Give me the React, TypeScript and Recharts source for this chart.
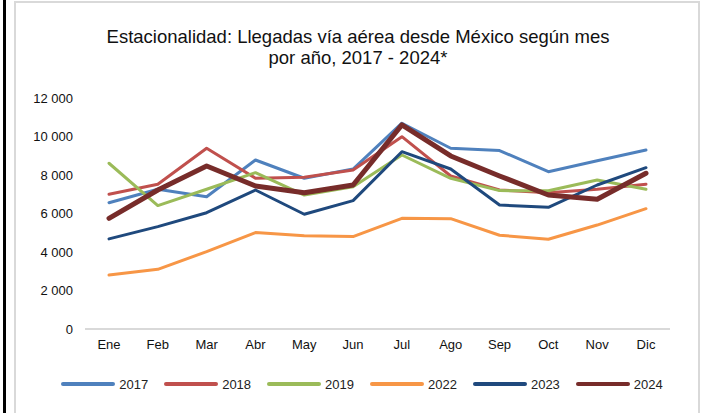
import { LineChart, Line, XAxis, YAxis, Legend } from 'recharts';

const months = ['Ene', 'Feb', 'Mar', 'Abr', 'May', 'Jun', 'Jul', 'Ago', 'Sep', 'Oct', 'Nov', 'Dic'];

const y2017 = [6560, 7260, 6870, 8780, 7830, 8310, 10690, 9390, 9270, 8170, 8740, 9300];
const y2018 = [7000, 7520, 9390, 7830, 7880, 8260, 9990, 7950, 7220, 7080, 7260, 7520];
const y2019 = [8610, 6410, 7260, 8120, 6960, 7390, 9040, 7830, 7190, 7180, 7740, 7260];
const y2022 = [2800, 3100, 4020, 5010, 4850, 4800, 5750, 5730, 4870, 4660, 5400, 6250];
const y2023 = [4680, 5320, 6040, 7220, 5960, 6670, 9210, 8310, 6440, 6320, 7480, 8380];
const y2024 = [5750, 7220, 8470, 7430, 7080, 7480, 10600, 8990, 7950, 6960, 6740, 8090];

const yTicks = [0, 2000, 4000, 6000, 8000, 10000, 12000];

const series = [
    { key: '2017', values: y2017, color: '#4F81BD', width: 3 },
    { key: '2018', values: y2018, color: '#C0504D', width: 3 },
    { key: '2019', values: y2019, color: '#9BBB59', width: 3 },
    { key: '2022', values: y2022, color: '#F79646', width: 3 },
    { key: '2023', values: y2023, color: '#1F497D', width: 3 },
    { key: '2024', values: y2024, color: '#772C2A', width: 5 },
];

const data = months.map((m, i) => {
    const row: Record<string, string | number> = { month: m };
    series.forEach((s) => {
        row[s.key] = s.values[i];
    });
    return row;
});

const FONT = '"Liberation Sans", Arial, sans-serif';

const fmt = (v: number) => String(v).replace(/\B(?=(\d{3})+(?!\d))/g, ' ');

const LegendContent = () => (
    <div style={{ display: 'flex', justifyContent: 'center', alignItems: 'center', height: 40, gap: 16, paddingLeft: 18 }}>
        {series.map((s) => (
            <div key={s.key} style={{ display: 'flex', alignItems: 'center' }}>
                <div style={{ width: 54, height: 4, borderRadius: 2, background: s.color, marginRight: 4 }} />
                <span style={{ fontSize: 13, color: '#222', fontFamily: FONT }}>{s.key}</span>
            </div>
        ))}
    </div>
);

export default function App() {
    return (
        <div style={{ position: 'fixed', top: 0, left: 0, width: 706, height: 413, background: '#fff', overflow: 'hidden', fontFamily: FONT }}>
            <div style={{ position: 'absolute', left: 3, top: 0, width: 2.5, height: 413, background: '#000' }} />
            <div style={{ position: 'absolute', left: 14, top: 1, width: 682, height: 430, border: '2px solid #D9D9D9' }} />
            <div
                style={{
                    position: 'absolute',
                    left: 0,
                    top: 26,
                    width: 716,
                    textAlign: 'center',
                    fontSize: 18.5,
                    lineHeight: '21px',
                    color: '#111',
                }}
            >
                Estacionalidad: Llegadas vía aérea desde México según mes
                <br />
                por año, 2017 - 2024*
            </div>
            <div style={{ position: 'absolute', left: 0, top: 0 }}>
                <LineChart width={706} height={413} data={data} margin={{ top: 98, right: 36, bottom: 9, left: 0 }}>
                    <XAxis
                        dataKey="month"
                        tickLine={false}
                        axisLine={{ stroke: '#D9D9D9', strokeWidth: 2 }}
                        tick={{ fill: '#111', fontSize: 13, fontFamily: FONT }}
                        tickMargin={5}
                        height={35}
                        interval={0}
                        padding={{ left: 24, right: 24 }}
                    />
                    <YAxis
                        domain={[0, 12000]}
                        ticks={yTicks}
                        tickFormatter={fmt}
                        axisLine={false}
                        tickLine={false}
                        tick={{ fill: '#111', fontSize: 13, fontFamily: FONT }}
                        tickMargin={6}
                        width={85}
                        interval={0}
                    />
                    <Legend
                        verticalAlign="bottom"
                        align="center"
                        height={40}
                        wrapperStyle={{ left: 0, width: 706 }}
                        content={<LegendContent />}
                    />
                    {series.map((s) => (
                        <Line
                            key={s.key}
                            type="linear"
                            dataKey={s.key}
                            stroke={s.color}
                            strokeWidth={s.width}
                            strokeLinejoin="round"
                            strokeLinecap="round"
                            dot={false}
                            activeDot={false}
                            isAnimationActive={false}
                        />
                    ))}
                </LineChart>
            </div>
        </div>
    );
}
